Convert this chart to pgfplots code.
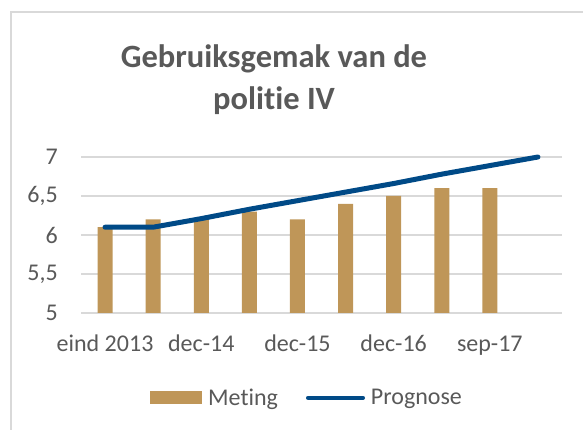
\documentclass[border=0pt]{standalone}
\usepackage{fontspec}
\setmainfont{Carlito}[Ligatures=NoCommon]
\usepackage{pgfplots}
\pgfplotsset{compat=1.18}
\definecolor{barGold}{RGB}{191,150,88}
\definecolor{lineBlue}{RGB}{0,74,135}
\definecolor{txtGray}{RGB}{89,89,89}
\definecolor{gridGray}{RGB}{217,217,217}

\begin{document}
\begin{tikzpicture}
\useasboundingbox (0,0) rectangle (583bp,430bp);
% chart frame (cropped at right and bottom)
\draw[gridGray, line width=1.2bp] (11bp,0) -- (11bp,418bp) -- (583bp,418bp);
% title
\node[txtGray, font=\fontsize{32.5bp}{42bp}\selectfont\bfseries, align=center, anchor=base]
  at (274bp,320bp) {Gebruiksgemak van de\\politie IV};
\begin{axis}[
    at={(81bp,117bp)}, anchor=south west,
    scale only axis,
    width=481bp, height=159.9bp,
    xmin=-0.5, xmax=9.5, ymin=5, ymax=7.05,
    xtick={0,2,4,6,8},
    xticklabels={eind 2013, dec-14, dec-15, dec-16, sep-17},
    ytick={5,5.5,6,6.5,7},
    yticklabels={5,{5,5},6,{6,5},7},
    major tick length=0pt,
    axis line style={draw=none},
    ymajorgrids,
    grid style={gridGray, line width=1.2bp},
    tick label style={font=\fontsize{24bp}{28bp}\selectfont, txtGray},
    xticklabel style={anchor=base, yshift=-39bp},
    yticklabel style={anchor=east, inner sep=0pt, xshift=-23bp},
    legend columns=2,
    legend cell align=left,
    legend style={at={(0.47,-0.53)}, anchor=center, draw=none, fill=none,
        font=\fontsize{24bp}{28bp}\selectfont, text=txtGray,
        /tikz/every odd column/.append style={column sep=4bp},
        /tikz/every even column/.append style={column sep=26bp}},
]
\addplot[ybar, bar width=15bp, fill=barGold, draw=none,
    legend image code/.code={\fill[barGold] (0bp,-6.5bp) rectangle (52bp,6.5bp);}]
    coordinates {(0,6.1) (1,6.2) (2,6.2) (3,6.3) (4,6.2) (5,6.4) (6,6.5) (7,6.6) (8,6.6)};
\addlegendentry{Meting}
\addplot[sharp plot, lineBlue, line width=5bp, line cap=round, line join=round,
    legend image code/.code={\draw[lineBlue, line width=4bp, line cap=round] (0bp,0bp) -- (55bp,0bp);}]
    coordinates {(0,6.1) (1,6.1) (2,6.21) (3,6.33) (4,6.44) (5,6.55) (6,6.66) (7,6.78) (8,6.89) (9,7.0)};
\addlegendentry{Prognose}
\end{axis}
\end{tikzpicture}
\end{document}
